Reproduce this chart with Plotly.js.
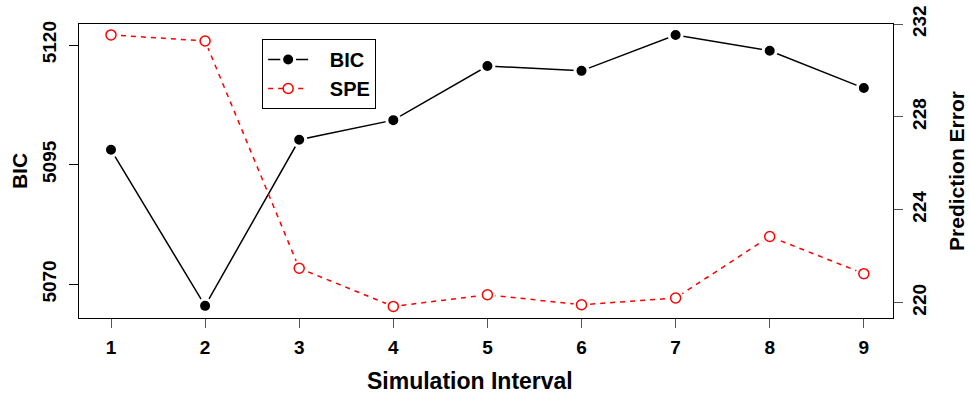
<!DOCTYPE html>
<html>
<head>
<meta charset="utf-8">
<script src="https://cdn.plot.ly/plotly-3.0.1.min.js"></script>
<style>html,body{margin:0;padding:0;background:#fff;}#chart{width:970px;height:396px;}</style>
</head>
<body>
<div id="chart"></div>
<script>
const intervals = [1, 2, 3, 4, 5, 6, 7, 8, 9];
const bicValues = [5098.1, 5065.5, 5100.2, 5104.3, 5115.6, 5114.6, 5122.1, 5118.8, 5111.0];
const speValues = [231.53, 231.27, 221.48, 219.84, 220.34, 219.91, 220.20, 222.85, 221.25];
const xTicks = [1, 2, 3, 4, 5, 6, 7, 8, 9];
const bicTicks = [5070, 5095, 5120];
const speTicks = [220, 224, 228, 232];
const seriesNames = ['BIC', 'SPE'];
const xTitle = 'Simulation Interval';

const FONT = 'Liberation Sans, Arial, Helvetica, sans-serif';
const tickFont = {family: FONT, size: 19, color: '#000', weight: 'bold'};
const titleFont = {family: FONT, size: 21, color: '#000', weight: 'bold'};
const pad = '\u00a0\u00a0\u00a0';

const traces = [
  {
    x: intervals, y: bicValues, name: pad + seriesNames[0], type: 'scatter', mode: 'lines+markers',
    line: {color: '#000', width: 1.5},
    marker: {color: '#000', size: 13, line: {color: '#fff', width: 3}},
    yaxis: 'y'
  },
  {
    x: intervals, y: speValues, name: pad + seriesNames[1], type: 'scatter', mode: 'lines+markers',
    line: {color: '#ff0000', width: 1.5, dash: '5px,5px'},
    marker: {color: '#fff', size: 10, symbol: 'circle', line: {color: '#ff0000', width: 1.5}},
    yaxis: 'y2'
  },
  {
    x: intervals, y: speValues, type: 'scatter', mode: 'markers', showlegend: false, hoverinfo: 'skip',
    marker: {color: '#fff', size: 16, line: {width: 0}},
    yaxis: 'y2'
  },
  {
    x: intervals, y: speValues, type: 'scatter', mode: 'markers', showlegend: false, hoverinfo: 'skip',
    marker: {color: '#fff', size: 10, symbol: 'circle', line: {color: '#ff0000', width: 1.5}},
    yaxis: 'y2'
  }
];

const layout = {
  width: 970, height: 396,
  margin: {l: 79, r: 77, t: 24, b: 78, pad: 0},
  paper_bgcolor: '#fff', plot_bgcolor: '#fff',
  showlegend: true,
  legend: {
    x: 0.225, y: 0.949, xanchor: 'left', yanchor: 'top',
    bgcolor: '#fff', bordercolor: '#000', borderwidth: 1,
    font: {family: FONT, size: 20, color: '#000', weight: 'bold'},
    tracegroupgap: 0, itemwidth: 40
  },
  xaxis: {
    range: [0.66, 9.31], tickvals: xTicks, ticktext: xTicks.map(String),
    showgrid: false, zeroline: false,
    showline: true, mirror: true, linecolor: '#000', linewidth: 1,
    ticks: 'outside', ticklen: 9, tickwidth: 1, tickcolor: '#555',
    tickfont: tickFont, ticklabelstandoff: 3
  },
  yaxis: {
    range: [5062.96, 5124.39], tickvals: bicTicks, ticktext: bicTicks.map(String),
    showgrid: false, zeroline: false,
    showline: true, linecolor: '#000', linewidth: 1,
    ticks: 'outside', ticklen: 9, tickwidth: 1, tickcolor: '#000',
    tickangle: -90, tickfont: tickFont, ticklabelstandoff: 5,
    title: {text: 'BIC', font: titleFont, standoff: 6}
  },
  yaxis2: {
    range: [219.34, 232.0], tickvals: speTicks, ticktext: speTicks.map(String),
    overlaying: 'y', side: 'right',
    showgrid: false, zeroline: false,
    showline: true, linecolor: '#000', linewidth: 1,
    ticks: 'outside', ticklen: 9, tickwidth: 1, tickcolor: '#555',
    tickangle: -90, tickfont: tickFont, ticklabelstandoff: 0,
    title: {text: 'Prediction Error', font: titleFont, standoff: 20}
  },
  annotations: [{
    text: xTitle, xref: 'paper', yref: 'paper', x: 0.480, y: -0.214,
    xanchor: 'center', yanchor: 'middle', showarrow: false,
    font: {family: FONT, size: 23, color: '#000', weight: 'bold'}
  }]
};

Plotly.newPlot('chart', traces, layout, {displayModeBar: false, staticPlot: true});
</script>
</body>
</html>
